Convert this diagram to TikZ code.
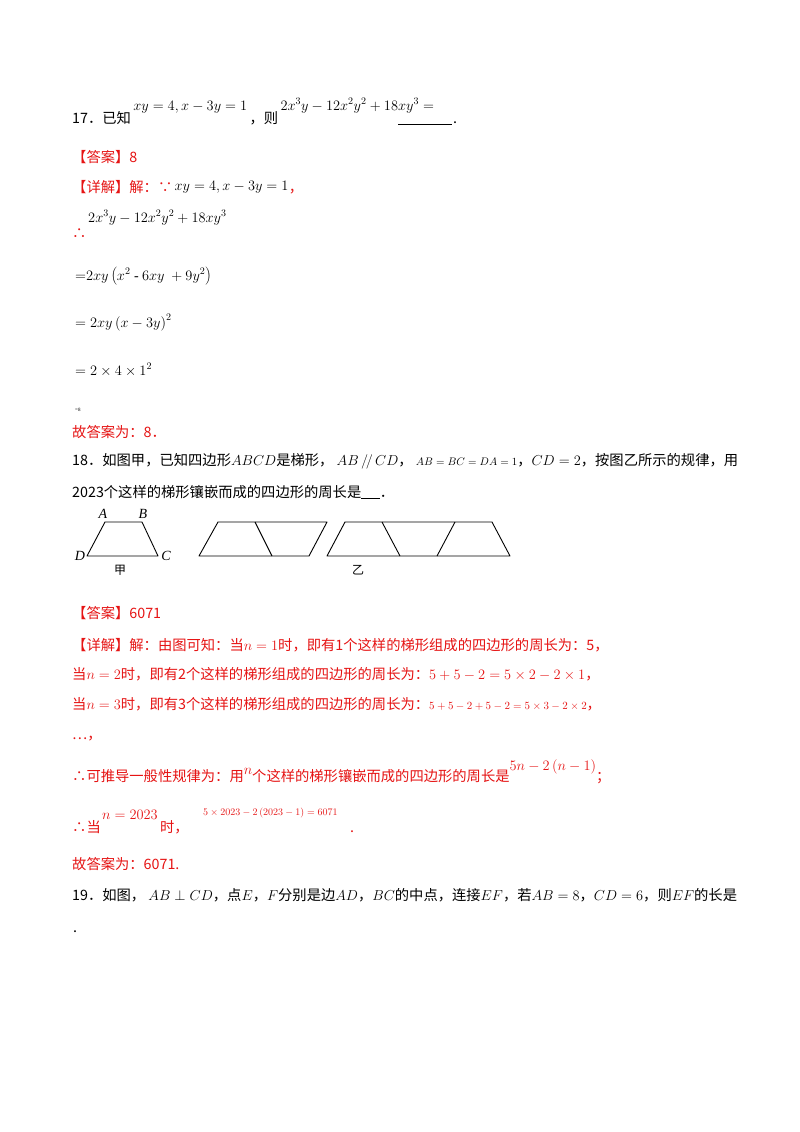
\documentclass[tikz,border=0pt]{standalone}
\usepackage{fontspec}
\setmainfont{Liberation Serif}
\newfontfamily\cjk{Noto Sans CJK SC}
\definecolor{ansred}{RGB}{230,20,20}
\begin{document}
\begin{tikzpicture}[x=1pt,y=-1pt,
  txt/.style={anchor=base west,inner sep=0pt,font=\fontsize{14.3}{16}\selectfont\cjk},
  rtxt/.style={txt,text=ansred},
  sm/.style={anchor=base west,inner sep=0pt,font=\fontsize{14}{16}\selectfont},
  rsm/.style={sm,text=ansred},
  fig/.style={line width=0.9pt,line join=round},
  lab/.style={inner sep=0pt,font=\fontsize{14}{16}\selectfont\itshape}]
\useasboundingbox[fill=white] (0,0) rectangle (800,1132);
% 17
\node[txt] (q17) at (72,123) {17．已知};
\node[sm] (q17a) at ([xshift=2pt,yshift=13pt]q17.base east) {$xy=4,x-3y=1$};
\node[txt] (q17b) at ([xshift=2pt]q17a.base east |- q17.base) {，则};
\node[sm] (q17c) at ([xshift=2pt,yshift=13pt]q17b.base east) {$2x^3y-12x^2y^2+18xy^3=$};
\coordinate (bl1) at (398,124); \coordinate (bl2) at (452,124);
\draw[line width=0.8pt] (bl1) -- (bl2);
\node[txt] (q17d) at (453,123) {.};
\node[rtxt] (a17) at (72,162) {【答案】8};
\node[rtxt] (d17) at (72,192) {【详解】解：∵};
\node[sm] (d17a) at ([xshift=2pt,yshift=2pt]d17.base east) {$xy=4,x-3y=1$};
\node[rtxt] (d17b) at (d17a.base east |- d17.base) {，};
\node[rtxt] (th1) at (72,238) {∴};
\node[sm] (e1) at (88,222) {$2x^3y-12x^2y^2+18xy^3$};
\node[sm] (e2) at (75,280) {$\mathbf{=}2xy\left(x^2\ \mbox{-}\ 6xy\ +9y^2\right)$};
\node[sm] (e3) at (75,327) {$=2xy\left(x-3y\right)^2$};
\node[sm] (e4) at (75,375) {$=2\times4\times1^2$};
\node[anchor=base west,inner sep=0pt,font=\fontsize{5}{6}\selectfont] (e5) at (75,411) {=8};
\node[rtxt] (f17) at (72,437) {故答案为：8．};
% 18
\node[txt] (q18) at (72,465) {18．如图甲，已知四边形$ABCD$是梯形，\ $AB\,/\!/\,CD$，\ {\fontsize{11}{12}\selectfont$AB=BC=DA=1$}，$CD=2$，按图乙所示的规律，用};
\node[txt] (q18b) at (72,497) {2023个这样的梯形镶嵌而成的四边形的周长是\underline{\hspace{1.3em}}．};
% figure jia
\coordinate (A) at (105,522); \coordinate (B) at (142,522);
\coordinate (C) at (158,556); \coordinate (D) at (87,556);
\draw[fig] (A) -- (B) -- (C) -- (D) -- cycle;
\node[lab] (lA) at (103,514) {A};
\node[lab] (lB) at (143,514) {B};
\node[lab] (lD) at (80,556) {D};
\node[lab] (lC) at (166,556) {C};
\node[inner sep=0pt,font=\fontsize{12}{14}\selectfont\cjk] (jia) at (120,570) {甲};
% middle
\coordinate (m1) at (218,522); \coordinate (m2) at (327,522);
\coordinate (m3) at (309,556); \coordinate (m4) at (199,556);
\coordinate (m5) at (255,522); \coordinate (m6) at (272,556);
\draw[fig] (m1) -- (m2) -- (m3) -- (m4) -- cycle;
\draw[fig] (m5) -- (m6);
% right
\coordinate (r1) at (345,522); \coordinate (r2) at (492,522);
\coordinate (r3) at (510,556); \coordinate (r4) at (327,556);
\coordinate (r5) at (382,522); \coordinate (r6) at (400,556);
\coordinate (r7) at (455,522); \coordinate (r8) at (437,556);
\draw[fig] (r1) -- (r2) -- (r3) -- (r4) -- cycle;
\draw[fig] (r5) -- (r6); \draw[fig] (r7) -- (r8);
\node[inner sep=0pt,font=\fontsize{12}{14}\selectfont\cjk] (yi) at (358,570) {乙};
% answer 18
\node[rtxt] (a18) at (72,618) {【答案】6071};
\node[rtxt] (d18) at (72,650) {【详解】解：由图可知：当$n=1$时，即有1个这样的梯形组成的四边形的周长为：5，};
\node[rtxt] (l2) at (72,679) {当$n=2$时，即有2个这样的梯形组成的四边形的周长为：$5+5-2=5\times2-2\times1$，};
\node[rtxt] (l3) at (72,709) {当$n=3$时，即有3个这样的梯形组成的四边形的周长为：{\fontsize{11}{12}\selectfont$5+5-2+5-2=5\times3-2\times2$}，};
\node[rtxt] (l4) at (72,739) {…，};
\node[rtxt] (l5) at (72,781) {∴可推导一般性规律为：用\raisebox{7pt}{$n$}个这样的梯形镶嵌而成的四边形的周长是\raisebox{11pt}{$5n-2\left(n-1\right)$}；};
\node[rtxt] (l6) at (72,832) {∴当};
\node[rsm] (l6a) at ([xshift=1pt,yshift=13pt]l6.base east) {$n=2023$};
\node[rtxt] (l6b) at ([xshift=2pt]l6a.base east |- l6.base) {时，};
\node[rsm] (l6c) at ([xshift=14pt,yshift=17pt]l6b.base east) {\fontsize{10}{11}\selectfont$5\times2023-2\left(2023-1\right)=6071$};
\node[rtxt] (l6d) at ([xshift=12pt]l6c.base east |- l6.base) {.};
\node[rtxt] (f18) at (72,869) {故答案为：6071.};
% 19
\node[txt] (q19) at (72,900) {19．如图，\ $AB\perp CD$，点$E$，$F$分别是边$AD$，$BC$的中点，连接$EF$，若$AB=8$，$CD=6$，则$EF$的长是};
\node[txt] (q19b) at (73,932) {.};
\end{tikzpicture}
\end{document}
